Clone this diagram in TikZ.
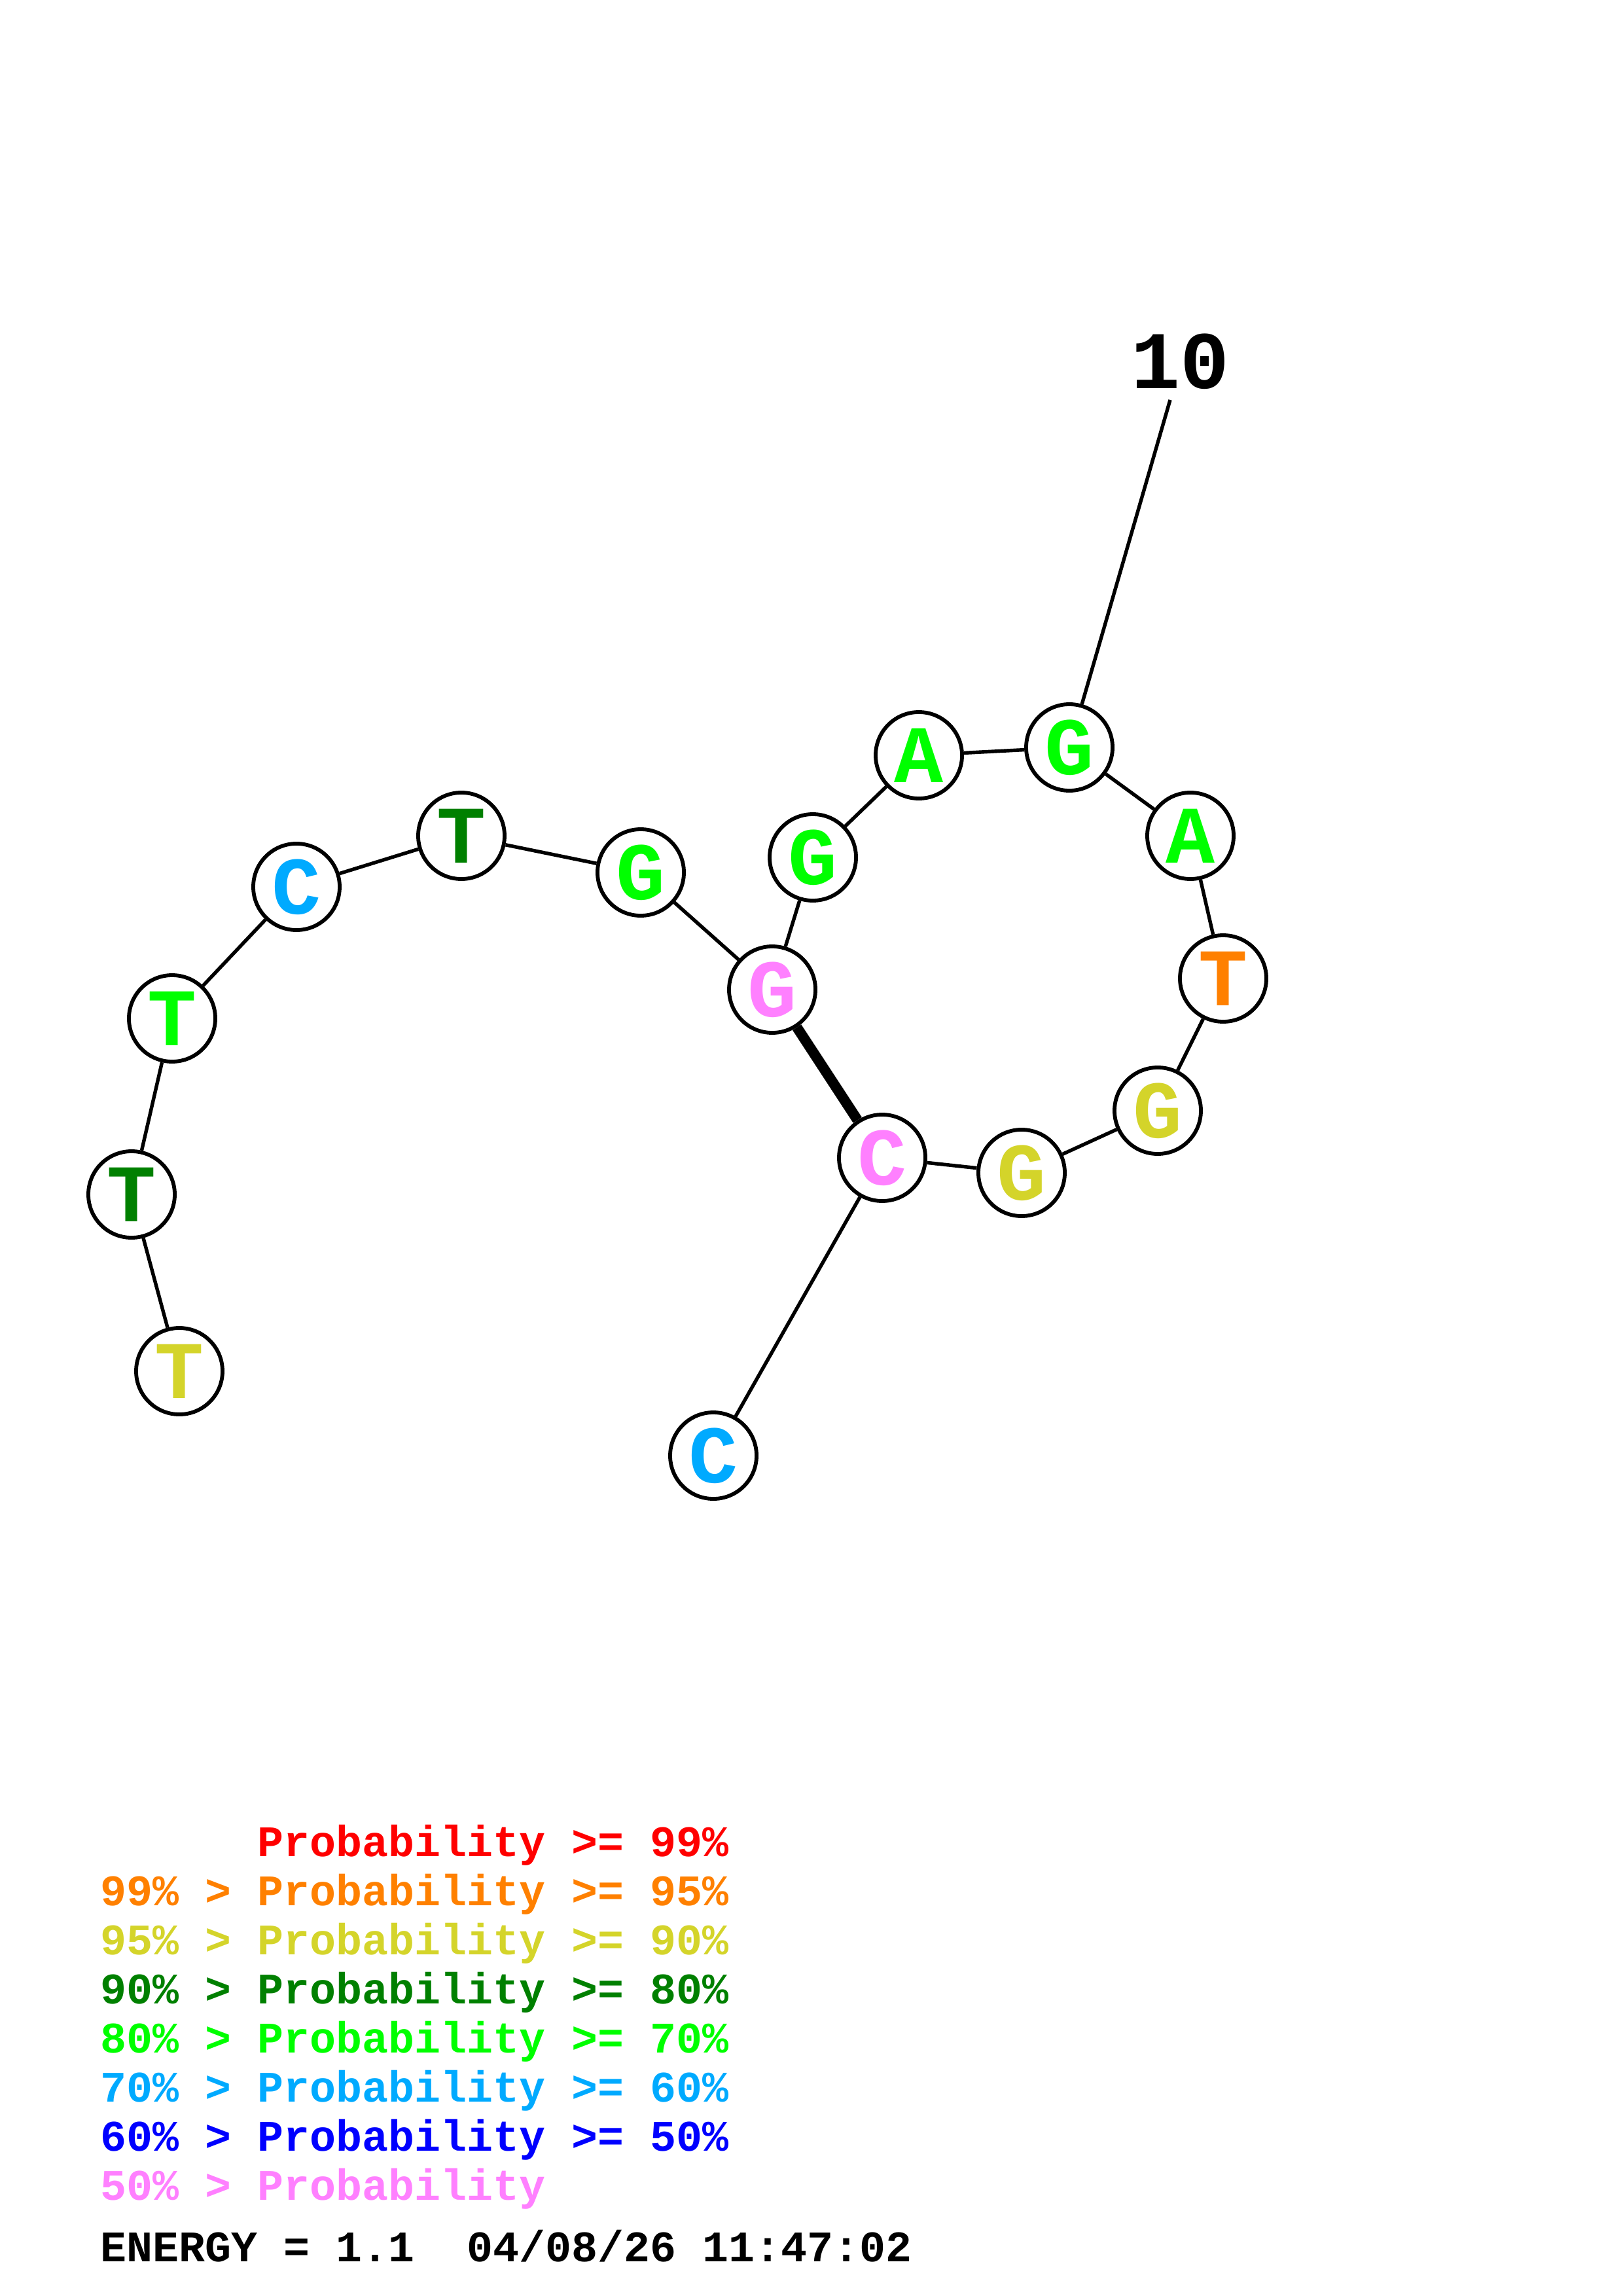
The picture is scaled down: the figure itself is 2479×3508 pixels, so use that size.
\documentclass[tikz,border=0pt]{standalone}
\usepackage{fontspec}
\setmonofont{Liberation Mono}
\definecolor{pred}{RGB}{255,0,0}
\definecolor{porange}{RGB}{255,128,0}
\definecolor{pyellow}{RGB}{212,212,42}
\definecolor{pdkgreen}{RGB}{0,128,0}
\definecolor{pgreen}{RGB}{0,255,0}
\definecolor{pcyan}{RGB}{0,170,255}
\definecolor{pblue}{RGB}{0,0,255}
\definecolor{ppink}{RGB}{255,128,255}
\tikzset{
  base/.style={circle, draw=black, line width=1.4pt, fill=white, minimum size=31.7pt,
    inner sep=0pt, font=\fontsize{30}{30}\selectfont\ttfamily\bfseries},
  bond/.style={line width=1.3pt},
  pair/.style={line width=3.8pt},
  legend/.style={anchor=base west, inner sep=0pt, font=\fontsize{16}{16}\selectfont\ttfamily\bfseries}
}
\begin{document}
\begin{tikzpicture}[x=0.2401pt, y=-0.2401pt]
    \useasboundingbox (0,0) rectangle (2479,3508);
    % bases
    \node[base, text=pyellow]  at (274, 2095) (n1) {T};
    \node[base, text=pdkgreen] at (201, 1825) (n2) {T};
    \node[base, text=pgreen]   at (263, 1556) (n3) {T};
    \node[base, text=pcyan]    at (453, 1355) (n4) {C};
    \node[base, text=pdkgreen] at (705, 1277) (n5) {T};
    \node[base, text=pgreen]   at (979, 1333) (n6) {G};
    \node[base, text=ppink]    at (1180, 1512) (n7) {G};
    \node[base, text=pgreen]   at (1242, 1310) (n8) {G};
    \node[base, text=pgreen]   at (1404, 1154) (n9) {A};
    \node[base, text=pgreen]   at (1634, 1142) (n10) {G};
    \node[base, text=pgreen]   at (1819, 1277) (n11) {A};
    \node[base, text=porange]  at (1869, 1495) (n12) {T};
    \node[base, text=pyellow]  at (1769, 1697) (n13) {G};
    \node[base, text=pyellow]  at (1561, 1792) (n14) {G};
    \node[base, text=ppink]    at (1348, 1769) (n15) {C};
    \node[base, text=pcyan]    at (1090, 2224) (n16) {C};
    % numbering
    \node[font=\fontsize{30}{30}\selectfont\ttfamily\bfseries] at (1803, 552) (lbl10) {10};
    \coordinate (tick10) at (1788, 611);
    % backbone
    \foreach \a/\b in {1/2,2/3,3/4,4/5,5/6,6/7,7/8,8/9,9/10,10/11,11/12,12/13,13/14,14/15,15/16}
        \draw[bond] (n\a) -- (n\b);
    \draw[bond] (n10) -- (tick10);
    % pairing
    \draw[pair] (n7) -- (n15);
    % legend
    \node[legend, text=pred]     at (153, 2836) (l1) {\phantom{99\% > }Probability >= 99\%};
    \node[legend, text=porange]  at (153, 2911) (l2) {99\% > Probability >= 95\%};
    \node[legend, text=pyellow]  at (153, 2986) (l3) {95\% > Probability >= 90\%};
    \node[legend, text=pdkgreen] at (153, 3061) (l4) {90\% > Probability >= 80\%};
    \node[legend, text=pgreen]   at (153, 3136) (l5) {80\% > Probability >= 70\%};
    \node[legend, text=pcyan]    at (153, 3211) (l6) {70\% > Probability >= 60\%};
    \node[legend, text=pblue]    at (153, 3286) (l7) {60\% > Probability >= 50\%};
    \node[legend, text=ppink]    at (153, 3361) (l8) {50\% > Probability};
    \node[legend, text=black]    at (153, 3455) (energy) {ENERGY = 1.1~~04/08/26 11:47:02};
\end{tikzpicture}
\end{document}
